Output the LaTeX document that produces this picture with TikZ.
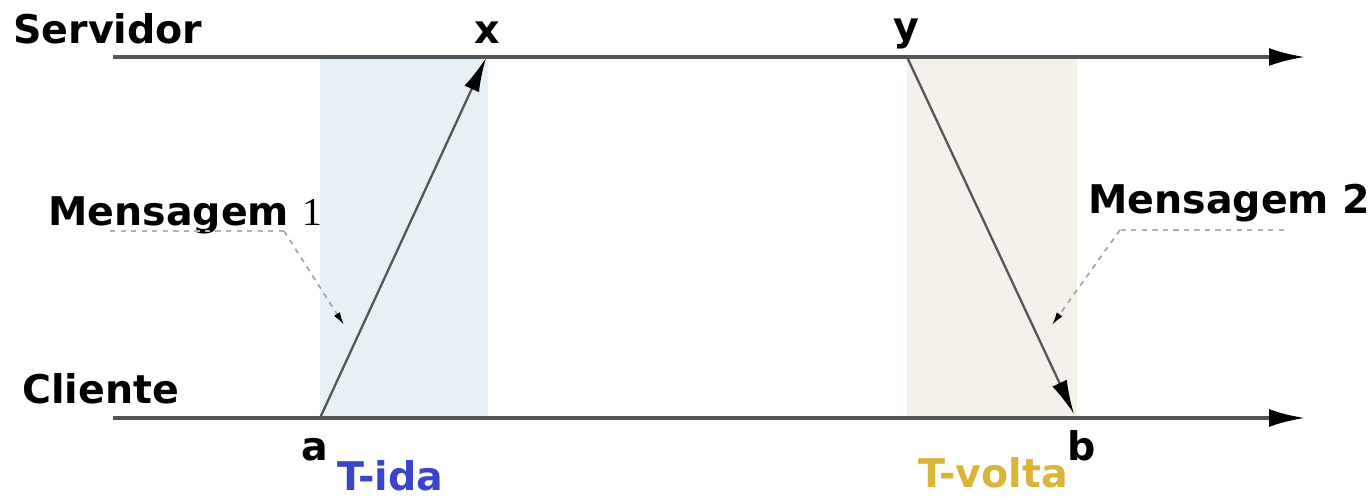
\documentclass[tikz,border=0pt]{standalone}
\usepackage{fontspec}
\setmainfont{DejaVu Sans}
\newfontfamily\serifdigit{Liberation Serif}
\usepackage{tikz}
\usetikzlibrary{arrows.meta, positioning, backgrounds}
\definecolor{idablue}{HTML}{3C44C8}
\definecolor{voltagold}{HTML}{D9B53A}
\definecolor{idaband}{HTML}{E7F1F5}
\definecolor{voltaband}{HTML}{F4F1EA}
\definecolor{linegray}{HTML}{555555}

\begin{document}
\begin{tikzpicture}[
    x=0.02cm, y=-0.02cm,
    axis/.style={linegray, line width=2pt, -{Latex[length=0.72cm, width=0.36cm, black]}},
    msg/.style={linegray, line width=1.3pt, -{Latex[length=0.68cm, width=0.32cm, black]}},
    callout/.style={gray!70, dashed, line width=1pt, -{Latex[length=0.26cm, width=0.14cm, black]}},
    underline/.style={gray!60, dashed, line width=1pt},
    lbl/.style={font=\fontsize{22.5}{27}\selectfont\bfseries, inner sep=0pt},
    period/.style={font=\fontsize{22.5}{27}\selectfont\bfseries, inner sep=0pt}
]
\useasboundingbox (0,0) rectangle (1370,497);

% Points on the time lines
\coordinate (srvstart) at (113,57);
\coordinate (srvend) at (1305,57);
\coordinate (clistart) at (113,418);
\coordinate (cliend) at (1305,418);
\coordinate (a) at (320,418);
\coordinate (x) at (486,58);
\coordinate (y) at (907,57);
\coordinate (b) at (1074,414);

% Bands
\fill[idaband] (320,57) rectangle (488,418);
\fill[voltaband] (907,57) rectangle (1077,418);

% Axes
\draw[axis] (srvstart) -- (srvend);
\draw[axis] (clistart) -- (cliend);

% Labels
\node[lbl, anchor=base west] at (13,43) (servidor) {Servidor};
\node[lbl, anchor=base west] at (22,403) (cliente) {Cliente};
\node[lbl, anchor=base] at (487,43) (xlbl) {x};
\node[lbl, anchor=base] at (906,40) (ylbl) {y};
\node[lbl, anchor=base] at (315,460) (albl) {a};
\node[lbl, anchor=base] at (1082,460) (blbl) {b};
\node[period, anchor=base west, idablue] at (337,490) (tida) {T-ida};
\node[period, anchor=base west, voltagold] at (918,487) (tvolta) {T-volta};

% Messages
\draw[msg] (a) -- (x);
\draw[msg] (y) -- (b);

% Callouts
\node[lbl, anchor=base west] at (48,225) (msgA) {Mensagem {\serifdigit\mdseries 1}};
\node[lbl, anchor=base west] at (1088,213) (msgB) {Mensagem 2};
\coordinate (msgAend) at (110,231);
\coordinate (msgAknee) at (284,231);
\coordinate (msgAtip) at (344,325);
\coordinate (msgBend) at (1284,230);
\coordinate (msgBknee) at (1120,230);
\coordinate (msgBtip) at (1052,325);
\draw[underline] (msgAend) -- (msgAknee);
\draw[callout] (msgAknee) -- (msgAtip);
\draw[underline] (msgBend) -- (msgBknee);
\draw[callout] (msgBknee) -- (msgBtip);

\end{tikzpicture}
\end{document}
